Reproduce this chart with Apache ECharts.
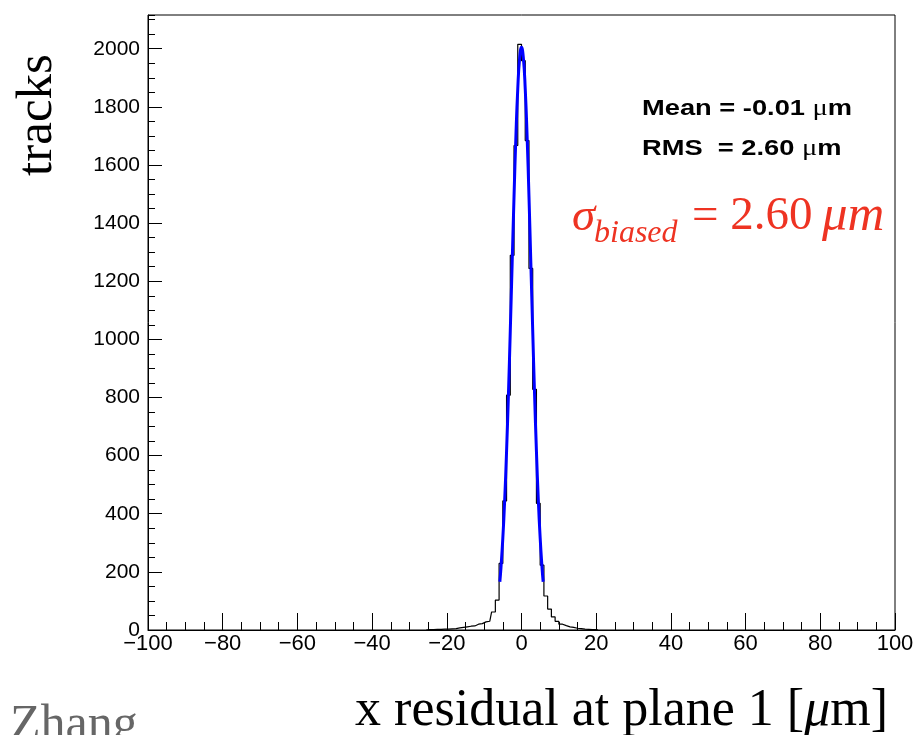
<!DOCTYPE html>
<html>
<head>
<meta charset="utf-8">
<script src="https://cdn.jsdelivr.net/npm/echarts@6/dist/echarts.min.js"></script>
<style>
  html, body { margin: 0; padding: 0; background: #fff; }
  #chart { width: 918px; height: 735px; }
</style>
</head>
<body>
<div id="chart"></div>
<script>
// ---- data ----
const binCenters = [-25.5, -24.5, -23.5, -22.5, -21.5, -20.5, -19.5, -18.5, -17.5, -16.5,
                    -15.5, -14.5, -13.5, -12.5, -11.5, -10.5, -9.5, -8.5, -7.5, -6.5,
                    -5.5, -4.5, -3.5, -2.5, -1.5, -0.5, 0.5, 1.5, 2.5, 3.5,
                    4.5, 5.5, 6.5, 7.5, 8.5, 9.5, 10.5, 11.5, 12.5, 13.5,
                    14.5, 15.5, 16.5, 17.5, 18.5, 19.5, 20.5];
const trackCounts = [0, 1, 1, 2, 2, 3, 3, 4, 5, 7,
                     9, 11, 13, 14, 20, 22, 28, 30, 62, 103,
                     229, 444, 808, 1289, 1667, 2015, 1959, 1684, 1244, 828,
                     436, 223, 117, 72, 45, 30, 20, 15, 11, 9,
                     6, 5, 3, 2, 1, 1, 0];
const fitX = [-5.8, -5.5, -5, -4.5, -4, -3.5, -3, -2.5, -2, -1.5, -1, -0.5, 0,
              0.5, 1, 1.5, 2, 2.5, 3, 3.5, 4, 4.5, 5, 5.5, 5.8];
const fitY = [166, 214, 316, 448, 614, 810, 1031, 1263, 1492, 1698, 1862, 1968, 2005,
              1968, 1862, 1698, 1492, 1263, 1031, 810, 614, 448, 316, 214, 166];
const xRange = [-100, 100];
const yRange = [0, 2116];
const statLines = ['Mean = -0.01 ', 'RMS  = 2.60 '];
const yTitle = 'tracks';
const xTitleParts = ['x residual at plane 1 [', '\u03bc', 'm]'];
const author = 'Zhang';

// ---- chart ----
const histData = binCenters.map((x, i) => [x, trackCounts[i]]);
const fitData = fitX.map((x, i) => [x, fitY[i]]);

const chart = echarts.init(document.getElementById('chart'), null, { renderer: 'canvas' });
const sans = 'Liberation Sans, Arial, Helvetica, sans-serif';
const serif = 'Liberation Serif, Times New Roman, serif';
const red = '#ee3322';

chart.setOption({
  animation: false,
  backgroundColor: '#ffffff',
  grid: { left: 148, right: 23, top: 15, bottom: 105, show: true, borderColor: '#000', borderWidth: 1, backgroundColor: 'transparent' },
  xAxis: {
    type: 'value', min: xRange[0], max: xRange[1], interval: 20,
    axisLine: { show: true, onZero: false, lineStyle: { color: '#000', width: 1 } },
    axisTick: { show: true, inside: true, length: 17, lineStyle: { color: '#000', width: 1 } },
    minorTick: { show: true, splitNumber: 4, length: 8, lineStyle: { color: '#000', width: 1 } },
    splitLine: { show: false },
    axisLabel: {
      color: '#000', fontFamily: sans, fontSize: 22, margin: 3,
      formatter: v => (v < 0 ? '\u2212' + Math.abs(v) : String(v))
    }
  },
  yAxis: [
    {
      type: 'value', min: yRange[0], max: yRange[1], interval: 200, position: 'left',
      axisLine: { show: true, onZero: false, lineStyle: { color: '#000', width: 1 } },
      axisTick: { show: true, inside: true, length: 14, lineStyle: { color: '#000', width: 1 } },
      splitLine: { show: false },
      axisLabel: { color: '#000', fontFamily: sans, fontSize: 21, margin: 8, showMaxLabel: false, formatter: v => String(v) }
    },
    {
      type: 'value', min: yRange[0], max: yRange[1], interval: 50, position: 'left', offset: 0,
      axisLine: { show: false, onZero: false },
      axisTick: { show: true, inside: true, length: 7, lineStyle: { color: '#000', width: 1 } },
      splitLine: { show: false },
      axisLabel: { show: false }
    }
  ],
  series: [
    {
      type: 'line', data: histData, step: 'middle', showSymbol: false, symbol: 'none',
      lineStyle: { color: '#000', width: 1.2 }, z: 2
    },
    {
      type: 'line', data: fitData, smooth: true, showSymbol: false, symbol: 'none',
      lineStyle: { color: '#0000ff', width: 3 }, z: 3
    }
  ],
  graphic: [
    {
      type: 'text', x: 642, y: 109, scaleX: 1.24,
      style: {
        text: '{b|' + statLines[0] + '}{m|\u03bc}{b|m}',
        textAlign: 'left', textVerticalAlign: 'middle',
        rich: {
          b: { fontFamily: sans, fontWeight: 'bold', fontSize: 22, fill: '#000', color: '#000' },
          m: { fontFamily: serif, fontWeight: 'normal', fontSize: 23, fill: '#000', color: '#000' }
        }
      }
    },
    {
      type: 'text', x: 642, y: 149, scaleX: 1.24,
      style: {
        text: '{b|' + statLines[1] + '}{m|\u03bc}{b|m}',
        textAlign: 'left', textVerticalAlign: 'middle',
        rich: {
          b: { fontFamily: sans, fontWeight: 'bold', fontSize: 22, fill: '#000', color: '#000' },
          m: { fontFamily: serif, fontWeight: 'normal', fontSize: 23, fill: '#000', color: '#000' }
        }
      }
    },
    { type: 'text', x: 572, y: 218, style: { text: '\u03c3', font: 'italic 47px ' + serif, fill: red, textAlign: 'left', textVerticalAlign: 'middle' } },
    { type: 'text', x: 594, y: 234, style: { text: 'biased', font: 'italic 32px ' + serif, fill: red, textAlign: 'left', textVerticalAlign: 'middle' } },
    { type: 'text', x: 692, y: 217, style: { text: '= 2.60', font: '47px ' + serif, fill: red, textAlign: 'left', textVerticalAlign: 'middle' } },
    { type: 'text', x: 822, y: 217, style: { text: '\u03bcm', font: 'italic 51px ' + serif, fill: red, textAlign: 'left', textVerticalAlign: 'middle' } },
    { type: 'text', x: 38, y: 115, rotation: Math.PI / 2, style: { text: yTitle, font: '51px ' + serif, fill: '#000', textAlign: 'center', textVerticalAlign: 'middle' } },
    {
      type: 'text', x: 888, y: 711,
      style: {
        text: '{n|' + xTitleParts[0] + '}{i|' + xTitleParts[1] + '}{n|' + xTitleParts[2] + '}',
        textAlign: 'right', textVerticalAlign: 'middle',
        rich: {
          n: { fontFamily: serif, fontSize: 52, fill: '#000', color: '#000' },
          i: { fontFamily: serif, fontStyle: 'italic', fontSize: 52, fill: '#000', color: '#000' }
        }
      }
    },
    { type: 'text', x: 10, y: 726, style: { text: author, font: '50px ' + serif, fill: '#666', textAlign: 'left', textVerticalAlign: 'middle' } }
  ]
});
</script>
</body>
</html>
